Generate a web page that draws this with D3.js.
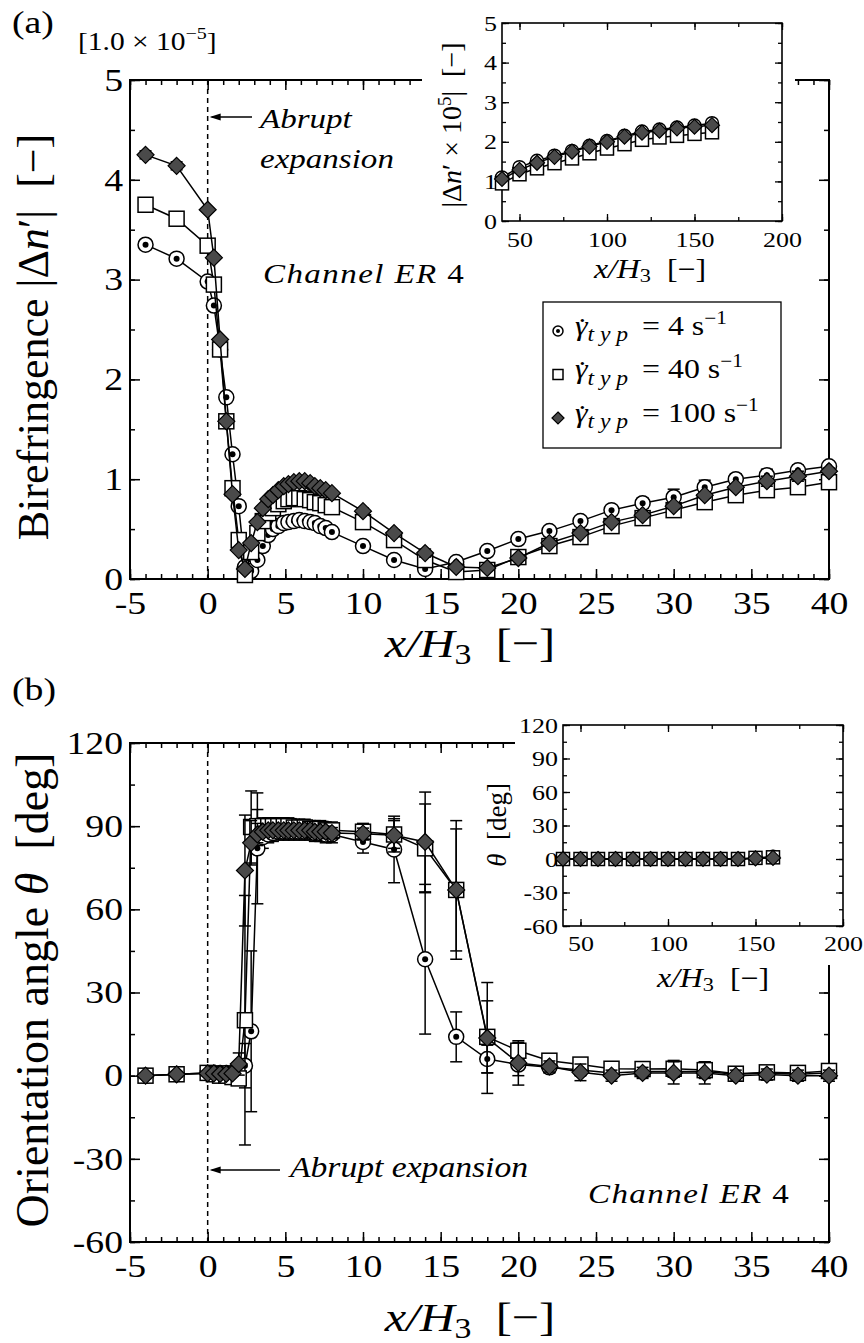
<!DOCTYPE html>
<html><head><meta charset="utf-8">
<script src="https://cdn.jsdelivr.net/npm/d3@7"></script>
<style>
body{margin:0;background:#fff}
svg{display:block}
text{font-family:"Liberation Serif","Times New Roman",serif;fill:#000;white-space:pre}
</style>
</head><body>
<svg id="chart" width="864" height="1343"></svg>
<script>
// ---------------- DATA ----------------
const xPos = [-4,-2,0,0.4,0.8,1.2,1.6,2.0,2.4,2.8,3.2,3.55,3.9,4.2,4.55,4.9,5.2,5.55,5.9,6.25,6.6,6.9,7.25,7.6,8,10,12,14,16,18,20,22,24,26,28,30,32,34,36,38,40];

const biref4   = [3.35,3.21,2.98,2.74,2.30,1.82,1.25,0.73,0.12,0.08,0.19,0.33,0.44,0.50,0.53,0.56,0.57,0.58,0.59,0.58,0.57,0.56,0.53,0.51,0.47,0.33,0.19,0.10,0.17,0.28,0.40,0.48,0.58,0.69,0.76,0.82,0.92,1.00,1.04,1.09,1.13];
const biref40  = [3.75,3.61,3.34,2.95,2.30,1.58,0.91,0.39,0.04,0.27,0.46,0.58,0.66,0.71,0.75,0.78,0.80,0.81,0.81,0.80,0.79,0.77,0.76,0.74,0.72,0.57,0.39,0.19,0.07,0.09,0.22,0.33,0.42,0.53,0.61,0.69,0.77,0.84,0.89,0.92,0.97];
const biref100 = [4.25,4.14,3.70,3.22,2.40,1.58,0.85,0.29,0.10,0.36,0.57,0.71,0.80,0.84,0.89,0.93,0.95,0.97,0.98,0.98,0.96,0.93,0.91,0.89,0.86,0.68,0.46,0.26,0.12,0.11,0.21,0.36,0.46,0.57,0.64,0.73,0.84,0.92,0.98,1.03,1.08];

const birefErr4   = [0.02,0.02,0.02,0.02,0.02,0.02,0.02,0.02,0.02,0.02,0.02,0.02,0.02,0.02,0.02,0.02,0.02,0.02,0.02,0.02,0.02,0.02,0.02,0.02,0.02,0.02,0.02,0.02,0.02,0.02,0.02,0.02,0.03,0.04,0.05,0.08,0.07,0.05,0.06,0.05,0.03];
const birefErr40  = [0.02,0.02,0.02,0.02,0.02,0.02,0.02,0.02,0.02,0.02,0.02,0.02,0.02,0.02,0.02,0.02,0.02,0.02,0.02,0.02,0.02,0.02,0.02,0.02,0.02,0.02,0.02,0.02,0.02,0.02,0.02,0.02,0.02,0.02,0.02,0.03,0.03,0.03,0.04,0.04,0.04];
const birefErr100 = [0.04,0.04,0.02,0.02,0.02,0.02,0.02,0.02,0.02,0.02,0.02,0.02,0.02,0.02,0.02,0.02,0.02,0.02,0.02,0.02,0.02,0.02,0.02,0.02,0.02,0.03,0.03,0.04,0.02,0.02,0.02,0.02,0.02,0.02,0.02,0.03,0.03,0.03,0.05,0.05,0.03];

const theta4   = [0,0.5,1,1,1,1,1,1,3.6,16,82,86,87,87.5,88,88,88,88,88,88,88,87.5,87.5,87,87,84.3,81.6,42,14,6,4,3,2,1,1.5,1.5,1.5,0.5,1,0.5,1];
const theta40  = [0,0.5,1,0.5,0,0,-0.5,-1,20,89.7,90,90,90,90,90,90,90,89.5,89.5,89.5,89,89,89,88.5,88.5,88,87,82,67,14,9,5.4,4,2.5,2.4,2.5,2,0.7,1.2,1,1.7];
const theta100 = [0,0.5,0.8,0.8,0.6,0.6,0.8,4.2,74,84,87,88,88.5,88.5,88.5,88.5,88.5,88.5,88.5,88.5,88.5,88,88,88,87.5,87.3,86.7,84.3,67,13.6,4.6,3.3,1.2,0,1,1,1,0,0.4,0,0];

const thetaErr4   = [1,1,1,1,1,1,1,1,8,29,20,4,3,3,3,3,3,3,3,3,3,3,3,3,3,4,12,27,9,5,4,2,2,2,2,2,2,2,2,2,2];
const thetaErr40  = [1,1,1,1,1,1,1,2,45,13,6,3,3,3,3,3,3,3,3,3,3,3,3,3,3,3,5,16,22,13,3,2,2,2,2,3,3,2,2,2,2];
const thetaErr100 = [1,1,1,1,1,1,1,4,20,8,4,2,2,2,2,2,2,2,2,2,2,2,2,2,2,2,6,18,25,20,8,2,3,2,2,4,4,2,2,2,2];

const insetX = [40,50,60,70,80,90,100,110,120,130,140,150,160];
const insetBiref4   = [1.10,1.36,1.52,1.65,1.77,1.90,2.02,2.15,2.26,2.31,2.36,2.41,2.47];
const insetBiref40  = [0.95,1.18,1.33,1.46,1.58,1.71,1.83,1.94,2.05,2.11,2.15,2.20,2.24];
const insetBiref100 = [1.06,1.29,1.47,1.62,1.75,1.88,2.00,2.13,2.23,2.28,2.34,2.38,2.42];
const insetBirefErr100 = [0.03,0.03,0.03,0.03,0.03,0.03,0.03,0.03,0.04,0.04,0.04,0.05,0.06];
const insetTheta4   = [0,0,0,0,0,0,0,0,0,0,0,1,2];
const insetTheta40  = [0,0,0,0,0,0,0,0,0,0,0,1,1.5];
const insetTheta100 = [0,0,0,0,0,0,0,0,0,0,0,0.5,1];

const mainXTicks = [-5,0,5,10,15,20,25,30,35,40];
const birefTicks = [0,1,2,3,4,5];
const thetaTicks = [-60,-30,0,30,60,90,120];
const insetXTicks = [50,100,150,200];
const rateLabels = ["4","40","100"];

// ---------------- HELPERS ----------------
const svg = d3.select("#chart");
svg.append("rect").attr("width",864).attr("height",1343).attr("fill","#fff");
const FONT = '"Liberation Serif","Times New Roman",serif';
const STRETCH = 1.18;

function axes(g, x, y, o){
  const bot = y.range()[0], top = y.range()[1], lft = x.range()[0], rgt = x.range()[1];
  const A = g.append("g");
  A.append("g").attr("transform",`translate(0,${bot})`).call(d3.axisBottom(x).tickValues(o.xMinor).tickSize(-o.minor).tickFormat(""));
  A.append("g").attr("transform",`translate(0,${bot})`).call(d3.axisBottom(x).tickValues(o.xTicks).tickSize(-o.major).tickPadding(o.xPad).tickFormat(d=>String(d)));
  A.append("g").attr("transform",`translate(0,${top})`).call(d3.axisTop(x).tickValues(o.xMinor).tickSize(-o.minor).tickFormat(""));
  A.append("g").attr("transform",`translate(0,${top})`).call(d3.axisTop(x).tickValues(o.xTicks).tickSize(-o.major).tickFormat(""));
  A.append("g").attr("transform",`translate(${lft},0)`).call(d3.axisLeft(y).tickValues(o.yMinor).tickSize(-o.minor).tickFormat(""));
  A.append("g").attr("transform",`translate(${lft},0)`).call(d3.axisLeft(y).tickValues(o.yTicks).tickSize(-o.major).tickPadding(o.yPad).tickFormat(d=>String(d)));
  A.append("g").attr("transform",`translate(${rgt},0)`).call(d3.axisRight(y).tickValues(o.yMinor).tickSize(-o.minor).tickFormat(""));
  A.append("g").attr("transform",`translate(${rgt},0)`).call(d3.axisRight(y).tickValues(o.yTicks).tickSize(-o.major).tickFormat(""));
  A.selectAll(".domain").remove();
  A.selectAll("g").attr("font-family",FONT).attr("font-size",o.fs);
  A.selectAll(".tick line").attr("stroke","#000").attr("stroke-width",o.tw);
  A.selectAll(".tick text").attr("fill","#000");
  A.append("rect").attr("x",lft).attr("y",top).attr("width",rgt-lft).attr("height",bot-top)
    .attr("fill","none").attr("stroke","#000").attr("stroke-width",o.sw);
}

function marker(g, shape, cx, cy, s){
  if(shape==="circle"){
    g.append("circle").attr("cx",cx).attr("cy",cy).attr("r",s).attr("fill","#fff").attr("stroke","#000").attr("stroke-width",1.5);
    g.append("circle").attr("cx",cx).attr("cy",cy).attr("r",s*0.4).attr("fill","#000");
  } else if(shape==="square"){
    g.append("rect").attr("x",cx-s).attr("y",cy-s).attr("width",2*s).attr("height",2*s).attr("fill","#fff").attr("stroke","#000").attr("stroke-width",1.5);
  } else {
    g.append("path").attr("d",`M${cx},${cy-s}L${cx+s},${cy}L${cx},${cy+s}L${cx-s},${cy}Z`).attr("fill","#4a4a4a").attr("stroke","#000").attr("stroke-width",1.2);
  }
}

function series(g, x, y, xs, ys, errs, shape, s, cap){
  const pts = xs.map((d,i)=>({x:d, y:ys[i], e: errs ? errs[i] : 0}));
  const G = g.append("g");
  G.append("path").datum(pts).attr("d", d3.line().x(d=>x(d.x)).y(d=>y(d.y)))
    .attr("fill","none").attr("stroke","#000").attr("stroke-width",1.5);
  const E = G.append("g").attr("stroke","#000").attr("stroke-width",1.5);
  pts.filter(d=>d.e>0).forEach(d=>{
    const px=x(d.x), y1=y(d.y-d.e), y2=y(d.y+d.e);
    E.append("line").attr("x1",px).attr("x2",px).attr("y1",y1).attr("y2",y2);
    E.append("line").attr("x1",px-cap).attr("x2",px+cap).attr("y1",y1).attr("y2",y1);
    E.append("line").attr("x1",px-cap).attr("x2",px+cap).attr("y1",y2).attr("y2",y2);
  });
  const M = G.append("g");
  pts.forEach(d=> marker(M, shape, x(d.x), y(d.y), s));
}

function arrowLeft(g, x1, x2, yy){
  g.append("line").attr("x1",x1).attr("x2",x2+2).attr("y1",yy).attr("y2",yy).attr("stroke","#000").attr("stroke-width",1.3);
  g.append("path").attr("d",`M${x2},${yy}L${x2+11},${yy-3.5}L${x2+11},${yy+3.5}Z`).attr("fill","#000");
}

function xLabel(g, cx, by, fs){
  const t = g.append("text").attr("x",cx).attr("y",by).attr("text-anchor","middle").attr("font-size",fs);
  t.append("tspan").attr("font-style","italic").text("x/H");
  t.append("tspan").attr("font-size",fs*0.7).attr("dy",fs*0.16).text("3");
  t.append("tspan").attr("dy",-fs*0.16).text("  [−]");
}
function channel(g, x, y){
  const t = g.append("text").attr("x",x).attr("y",y).attr("font-size",28).attr("letter-spacing",1.2);
  t.append("tspan").attr("font-style","italic").text("Channel ER");
  t.append("tspan").text(" 4");
}

// ---------------- SCALES ----------------
const xMain = d3.scaleLinear([-5,40],[130,829]);
const yA = d3.scaleLinear([0,5],[579,80]);
const yB = d3.scaleLinear([-60,120],[1242,743]);
const xIA = d3.scaleLinear([40,200],[502,782]);
const yIA = d3.scaleLinear([0,5],[221,23]);
const xIB = d3.scaleLinear([40,200],[563,843]);
const yIB = d3.scaleLinear([-60,120],[926,725]);

const mainXMinor = d3.range(-5,41,1);
const mainOpts = {xTicks:mainXTicks, xMinor:mainXMinor, major:10, minor:5, xPad:12, yPad:7, fs:32, tw:1.5, sw:2};
const insetXMinor = d3.range(50,201,25);

// ================= PANEL (a) =================
const pa = svg.append("g");
axes(pa, xMain, yA, Object.assign({}, mainOpts, {yTicks:birefTicks, yMinor:d3.range(0,5.01,0.5)}));
pa.append("line").attr("x1",xMain(0)).attr("x2",xMain(0)).attr("y1",yA(5)).attr("y2",yA(0))
  .attr("stroke","#000").attr("stroke-width",1.5).attr("stroke-dasharray","5,4");

series(pa, xMain, yA, xPos, biref4, birefErr4, "circle", 7.5, 6);
series(pa, xMain, yA, xPos, biref40, birefErr40, "square", 7.5, 6);
series(pa, xMain, yA, xPos, biref100, birefErr100, "diamond", 8.5, 6);

pa.append("text").attr("x",12).attr("y",33).attr("font-size",32).text("(a)");
const sc = pa.append("text").attr("x",78).attr("y",50).attr("font-size",25);
sc.append("tspan").text("[1.0 × 10");
sc.append("tspan").attr("font-size",17).attr("dy",-11).text("−5");
sc.append("tspan").attr("dy",11).text("]");

const yla = pa.append("text").attr("class","rot").attr("transform","translate(48,337) rotate(-90)").attr("text-anchor","middle").attr("font-size",44);
yla.append("tspan").text("Birefringence |Δ");
yla.append("tspan").attr("font-style","italic").text("n");
yla.append("tspan").text("′|  [−]");

xLabel(pa, 470, 657, 41);

arrowLeft(pa, 252, xMain(0)+2, 117);
pa.append("text").attr("x",260).attr("y",128).attr("font-size",28).attr("font-style","italic").text("Abrupt");
pa.append("text").attr("x",260).attr("y",168).attr("font-size",28).attr("font-style","italic").text("expansion");
channel(pa, 263, 283);

// inset (a)
pa.append("rect").attr("x",422).attr("y",0).attr("width",373).attr("height",226).attr("fill","#fff");
pa.append("rect").attr("x",490).attr("y",0).attr("width",305).attr("height",292).attr("fill","#fff");
const ia = pa.append("g");
axes(ia, xIA, yIA, {xTicks:insetXTicks, xMinor:insetXMinor, yTicks:birefTicks, yMinor:d3.range(0,5.01,0.5), major:7, minor:4, xPad:10, yPad:5, fs:22, tw:1.3, sw:1.6});
series(ia, xIA, yIA, insetX, insetBiref4, null, "circle", 6.5, 5);
series(ia, xIA, yIA, insetX, insetBiref40, null, "square", 6.5, 5);
series(ia, xIA, yIA, insetX, insetBiref100, insetBirefErr100, "diamond", 7.5, 5);
const iyla = ia.append("text").attr("class","rot").attr("transform","translate(461,125) rotate(-90)").attr("text-anchor","middle").attr("font-size",28);
iyla.append("tspan").text("|Δ");
iyla.append("tspan").attr("font-style","italic").text("n");
iyla.append("tspan").text("′ × 10");
iyla.append("tspan").attr("font-size",19).attr("dy",-10).text("5");
iyla.append("tspan").attr("dy",10).text("|  [−]");
xLabel(ia, 650, 278, 27);

// legend (a)
const lg = pa.append("g");
lg.append("rect").attr("x",543).attr("y",302).attr("width",238).attr("height",146).attr("fill","#fff").attr("stroke","#000").attr("stroke-width",1.3);
const legShapes = ["circle","square","diamond"];
const legSizes = [5,5,6];
rateLabels.forEach((r,i)=>{
  const cy = 331 + i*43.5;
  marker(lg, legShapes[i], 558, cy, legSizes[i]);
  const t = lg.append("text").attr("x",575).attr("y",cy+4).attr("font-size",27);
  t.append("tspan").attr("font-style","italic").text("γ");
  t.append("tspan").attr("dx",-9).attr("dy",2).text("˙");
  t.append("tspan").attr("font-style","italic").attr("font-size",20).attr("letter-spacing",5).attr("dy",4).text("typ");
  t.append("tspan").attr("dy",-6).text(" = " + r + " s");
  t.append("tspan").attr("font-size",18).attr("dy",-11).text("−1");
});

// ================= PANEL (b) =================
const pb = svg.append("g");
axes(pb, xMain, yB, Object.assign({}, mainOpts, {yTicks:thetaTicks, yMinor:d3.range(-60,121,15)}));
pb.append("line").attr("x1",xMain(0)).attr("x2",xMain(0)).attr("y1",yB(120)).attr("y2",yB(-60))
  .attr("stroke","#000").attr("stroke-width",1.5).attr("stroke-dasharray","5,4");

series(pb, xMain, yB, xPos, theta4, thetaErr4, "circle", 7.5, 6);
series(pb, xMain, yB, xPos, theta40, thetaErr40, "square", 7.5, 6);
series(pb, xMain, yB, xPos, theta100, thetaErr100, "diamond", 8.5, 6);

pb.append("text").attr("x",12).attr("y",700).attr("font-size",32).text("(b)");
const ylb = pb.append("text").attr("class","rot").attr("transform","translate(48,990) rotate(-90)").attr("text-anchor","middle").attr("font-size",46);
ylb.append("tspan").text("Orientation angle ");
ylb.append("tspan").attr("font-style","italic").text("θ");
ylb.append("tspan").text("  [deg]");
xLabel(pb, 470, 1331, 41);

arrowLeft(pb, 280, xMain(0)+2, 1170);
pb.append("text").attr("x",290).attr("y",1177).attr("font-size",28.5).attr("font-style","italic").text("Abrupt expansion");
channel(pb, 588, 1203);

// inset (b)
pb.append("rect").attr("x",515).attr("y",690).attr("width",349).attr("height",275).attr("fill","#fff");
const ib = pb.append("g");
axes(ib, xIB, yIB, {xTicks:insetXTicks, xMinor:insetXMinor, yTicks:thetaTicks, yMinor:d3.range(-60,121,15), major:7, minor:4, xPad:9, yPad:5, fs:22, tw:1.3, sw:1.6});
series(ib, xIB, yIB, insetX, insetTheta4, null, "circle", 6.5, 5);
series(ib, xIB, yIB, insetX, insetTheta40, null, "square", 6.5, 5);
series(ib, xIB, yIB, insetX, insetTheta100, null, "diamond", 7.5, 5);
const iylb = ib.append("text").attr("class","rot").attr("transform","translate(506,825) rotate(-90)").attr("text-anchor","middle").attr("font-size",27);
iylb.append("tspan").attr("font-style","italic").text("θ");
iylb.append("tspan").text("  [deg]");
xLabel(ib, 713, 987, 27);

// ---------- horizontal glyph stretch (reference figure is horizontally stretched) ----------
svg.selectAll("text").each(function(){
  if (this.classList.contains("rot")) return;
  const x0 = +(this.getAttribute("x") || 0), y0 = +(this.getAttribute("y") || 0);
  this.setAttribute("transform", `translate(${x0},${y0}) scale(${STRETCH},1) translate(${-x0},${-y0})`);
});
</script>
</body></html>
